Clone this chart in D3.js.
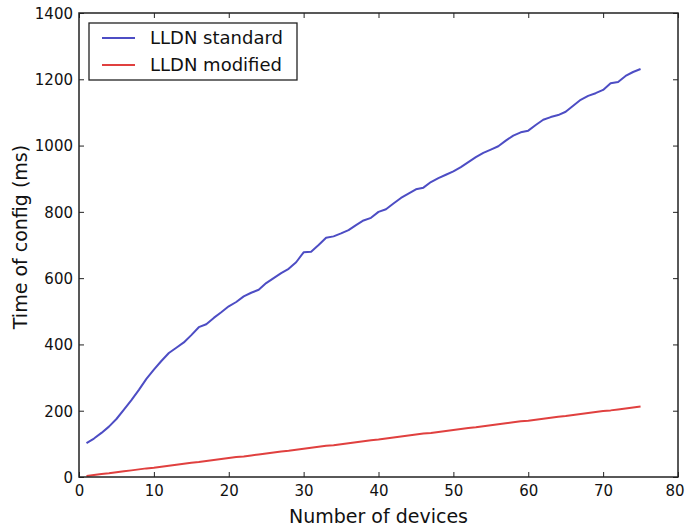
<!DOCTYPE html>
<html><head><meta charset="utf-8">
<script src="https://cdn.jsdelivr.net/npm/d3@7"></script>
<style>body{margin:0;background:#fff}svg{display:block}text{font-family:"DejaVu Sans",sans-serif;fill:#111}</style>
</head><body><div id="chart"></div>
<script>
const devices = d3.range(1, 76);
const standardMs = [102,116,133,152,175,203,232,263,296,324,350,374,390,406,428,452,461,480,497,515,
528,545,556,565,585,600,615,628,648,678,680,700,722,726,735,745,760,774,782,800,
808,825,842,855,868,873,890,902,912,922,935,950,965,978,988,998,1015,1030,1040,1045,
1062,1078,1086,1092,1102,1120,1138,1150,1158,1168,1188,1192,1210,1222,1231];
const modifiedMs = [3,6,9,11,14,17,20,23,26,28,31,34,37,40,43,45,48,51,54,57,
60,62,65,68,71,74,77,79,82,85,88,91,94,96,99,102,105,108,111,113,
116,119,122,125,128,131,133,136,139,142,145,148,150,153,156,159,162,165,168,170,
173,176,179,182,184,187,190,193,196,199,201,204,207,210,213];
const xTicks = [0,10,20,30,40,50,60,70,80];
const yTicks = [0,200,400,600,800,1000,1200,1400];
const seriesNames = ["LLDN standard","LLDN modified"];
const seriesColors = ["#4d4dc4","#e0403f"];

const W = 685, H = 528;
const m = {left:79, right:7, top:13, bottom:51};
const svg = d3.select("#chart").append("svg").attr("width", W).attr("height", H);
const x = d3.scaleLinear().domain([0,80]).range([m.left, W - m.right]);
const y = d3.scaleLinear().domain([0,1400]).range([H - m.bottom, m.top]);

const line = d3.line().x((d,i) => x(devices[i])).y(d => y(d));
[standardMs, modifiedMs].forEach((s, k) => {
  svg.append("path").datum(s).attr("d", line).attr("fill","none")
    .attr("stroke", seriesColors[k]).attr("stroke-width", 2).attr("stroke-linejoin","round");
});

const tl = 5, fmt = d3.format("d");
const gB = svg.append("g").attr("transform", `translate(0,${H - m.bottom})`)
  .call(d3.axisBottom(x).tickValues(xTicks).tickFormat(fmt).tickSizeInner(-tl).tickSizeOuter(0).tickPadding(8));
const gT = svg.append("g").attr("transform", `translate(0,${m.top})`)
  .call(d3.axisTop(x).tickValues(xTicks).tickSizeInner(-tl).tickSizeOuter(0).tickFormat(""));
const gL = svg.append("g").attr("transform", `translate(${m.left},0)`)
  .call(d3.axisLeft(y).tickValues(yTicks).tickFormat(fmt).tickSizeInner(-tl).tickSizeOuter(0).tickPadding(6));
const gR = svg.append("g").attr("transform", `translate(${W - m.right},0)`)
  .call(d3.axisRight(y).tickValues(yTicks).tickSizeInner(-tl).tickSizeOuter(0).tickFormat(""));
[gB,gT,gL,gR].forEach(g => {
  g.select(".domain").remove();
  g.selectAll(".tick line").attr("stroke","#222").attr("stroke-width",1);
  g.selectAll(".tick text").style("font-size","15px").attr("fill","#111");
});
gL.selectAll(".tick text").attr("dy","0.36em");
gB.selectAll(".tick text").filter(d => d === 80).attr("text-anchor","end").attr("dx","6");

svg.append("rect").attr("x", m.left).attr("y", m.top)
  .attr("width", W - m.right - m.left).attr("height", H - m.bottom - m.top)
  .attr("fill","none").attr("stroke","#222").attr("stroke-width",1.5);

svg.append("text").attr("x", (m.left + W - m.right)/2).attr("y", 523)
  .attr("text-anchor","middle").style("font-size","19px").text("Number of devices");
svg.append("text").attr("transform", `translate(27,${(m.top + H - m.bottom)/2 - 8}) rotate(-90)`)
  .attr("text-anchor","middle").style("font-size","19px").text("Time of config (ms)");

const lg = svg.append("g");
lg.append("rect").attr("x", 89).attr("y", 23).attr("width", 208).attr("height", 57)
  .attr("fill","#fff").attr("stroke","#222").attr("stroke-width",1.3);
seriesNames.forEach((n, k) => {
  const yy = 38 + k * 27;
  lg.append("line").attr("x1", 102).attr("x2", 135).attr("y1", yy).attr("y2", yy)
    .attr("stroke", seriesColors[k]).attr("stroke-width", 2);
  lg.append("text").attr("x", 150).attr("y", yy).attr("dy","0.36em")
    .style("font-size","18px").text(n);
});
</script></body></html>
